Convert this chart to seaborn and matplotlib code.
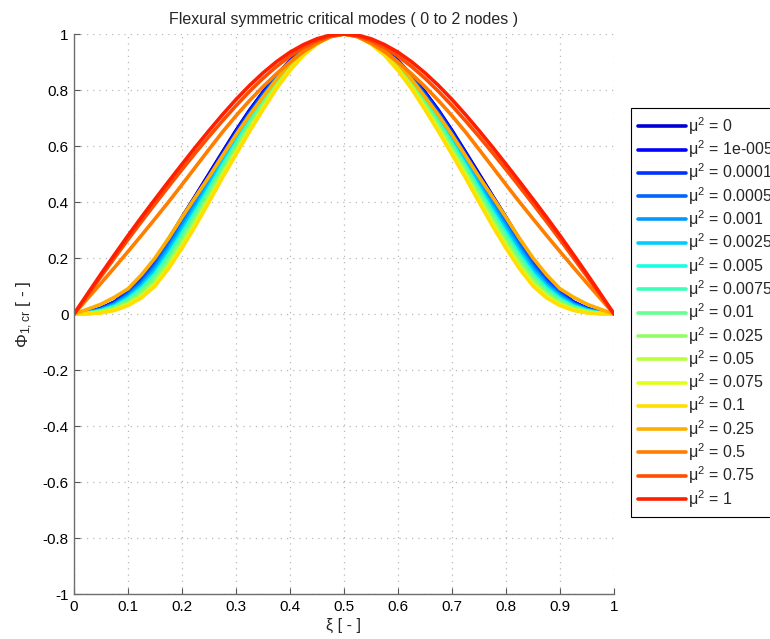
import numpy as np
import pandas as pd
import matplotlib
matplotlib.use("Agg")
import matplotlib.pyplot as plt
import seaborn as sns

# ---------------- data ----------------
xi = [0.0, 0.025, 0.05, 0.075, 0.1, 0.125, 0.15, 0.175, 0.2, 0.225, 0.25,
      0.275, 0.3, 0.325, 0.35, 0.375, 0.4, 0.425, 0.45, 0.475, 0.5,
      0.525, 0.55, 0.575, 0.6, 0.625, 0.65, 0.675, 0.7, 0.725, 0.75,
      0.775, 0.8, 0.825, 0.85, 0.875, 0.9, 0.925, 0.95, 0.975, 1.0]

mu2_labels = ["0", "1e-005", "0.0001", "0.0005", "0.001", "0.0025", "0.005",
              "0.0075", "0.01", "0.025", "0.05", "0.075", "0.1", "0.25",
              "0.5", "0.75", "1"]

phi_mu0 = [0, .005, .020, .043, .080, .128, .190, .265, .345, .422, .500, .578, .655, .727, .792, .852, .905, .946, .976, .994, 1,
           .994, .976, .946, .905, .852, .792, .727, .655, .578, .500, .422, .345, .265, .190, .128, .080, .043, .020, .005, 0]
phi_mu1e5 = [0, .005, .020, .042, .079, .127, .188, .263, .343, .420, .498, .576, .653, .726, .791, .851, .904, .946, .976, .994, 1,
             .994, .976, .946, .904, .851, .791, .726, .653, .576, .498, .420, .343, .263, .188, .127, .079, .042, .020, .005, 0]
phi_mu1e4 = [0, .005, .019, .041, .076, .122, .183, .257, .336, .413, .492, .571, .648, .721, .787, .848, .902, .944, .975, .994, 1,
             .994, .975, .944, .902, .848, .787, .721, .648, .571, .492, .413, .336, .257, .183, .122, .076, .041, .019, .005, 0]
phi_mu5e4 = [0, .004, .017, .038, .071, .115, .174, .247, .325, .403, .482, .562, .640, .714, .781, .844, .899, .942, .974, .994, 1,
             .994, .974, .942, .899, .844, .781, .714, .640, .562, .482, .403, .325, .247, .174, .115, .071, .038, .017, .004, 0]
phi_mu1e3 = [0, .004, .016, .035, .066, .108, .165, .236, .314, .392, .472, .553, .631, .706, .775, .839, .895, .940, .973, .993, 1,
             .993, .973, .940, .895, .839, .775, .706, .631, .553, .472, .392, .314, .236, .165, .108, .066, .035, .016, .004, 0]
phi_mu25e4 = [0, .003, .014, .031, .060, .100, .154, .224, .301, .379, .460, .542, .621, .697, .767, .833, .891, .938, .972, .993, 1,
              .993, .972, .938, .891, .833, .767, .697, .621, .542, .460, .379, .301, .224, .154, .100, .060, .031, .014, .003, 0]
phi_mu5e3 = [0, .003, .012, .027, .054, .092, .143, .211, .288, .366, .448, .531, .611, .688, .760, .828, .887, .935, .970, .993, 1,
             .993, .970, .935, .887, .828, .760, .688, .611, .531, .448, .366, .288, .211, .143, .092, .054, .027, .012, .003, 0]
phi_mu75e4 = [0, .003, .010, .025, .050, .086, .136, .203, .279, .358, .440, .523, .604, .682, .755, .824, .884, .933, .969, .993, 1,
              .993, .969, .933, .884, .824, .755, .682, .604, .523, .440, .358, .279, .203, .136, .086, .050, .025, .010, .003, 0]
phi_mu1e2 = [0, .002, .009, .023, .047, .081, .130, .196, .271, .350, .433, .517, .598, .677, .751, .821, .882, .932, .969, .993, 1,
             .993, .969, .932, .882, .821, .751, .677, .598, .517, .433, .350, .271, .196, .130, .081, .047, .023, .009, .002, 0]
phi_mu25e3 = [0, .002, .007, .019, .040, .072, .118, .183, .257, .336, .420, .505, .587, .667, .742, .814, .877, .929, .967, .992, 1,
              .992, .967, .929, .877, .814, .742, .667, .587, .505, .420, .336, .257, .183, .118, .072, .040, .019, .007, .002, 0]
phi_mu5e2 = [0, .001, .006, .016, .035, .065, .109, .172, .246, .326, .410, .496, .579, .660, .736, .810, .874, .927, .966, .992, 1,
             .992, .966, .927, .874, .810, .736, .660, .579, .496, .410, .326, .246, .172, .109, .065, .035, .016, .006, .001, 0]
phi_mu75e3 = [0, .001, .005, .014, .032, .061, .104, .166, .239, .319, .404, .491, .573, .655, .733, .807, .871, .925, .965, .992, 1,
              .992, .965, .925, .871, .807, .733, .655, .573, .491, .404, .319, .239, .166, .104, .061, .032, .014, .005, .001, 0]
phi_mu01 = [0, .001, .004, .013, .030, .058, .100, .162, .235, .315, .400, .487, .570, .652, .730, .805, .870, .925, .965, .992, 1,
            .992, .965, .925, .870, .805, .730, .652, .570, .487, .400, .315, .235, .162, .100, .058, .030, .013, .004, .001, 0]
phi_mu025 = [0, .017, .035, .060, .090, .140, .200, .270, .345, .418, .490, .565, .640, .710, .775, .838, .895, .940, .972, .993, 1,
             .993, .972, .940, .895, .838, .775, .710, .640, .565, .490, .418, .345, .270, .200, .140, .090, .060, .035, .017, 0]
phi_mu05 = [0, .055, .110, .166, .223, .281, .340, .400, .462, .525, .588, .650, .708, .762, .812, .858, .900, .937, .967, .990, 1,
            .990, .967, .937, .900, .858, .812, .762, .708, .650, .588, .525, .462, .400, .340, .281, .223, .166, .110, .055, 0]
phi_mu075 = [0, .067, .134, .200, .266, .330, .393, .455, .516, .576, .634, .690, .744, .795, .842, .884, .921, .952, .976, .993, 1,
             .993, .976, .952, .921, .884, .842, .795, .744, .690, .634, .576, .516, .455, .393, .330, .266, .200, .134, .067, 0]
phi_mu1 = [0, .072, .143, .212, .280, .346, .410, .473, .535, .596, .655, .712, .766, .816, .861, .901, .935, .962, .983, .996, 1,
           .996, .983, .962, .935, .901, .861, .816, .766, .712, .655, .596, .535, .473, .410, .346, .280, .212, .143, .072, 0]

series = [phi_mu0, phi_mu1e5, phi_mu1e4, phi_mu5e4, phi_mu1e3, phi_mu25e4,
          phi_mu5e3, phi_mu75e4, phi_mu1e2, phi_mu25e3, phi_mu5e2, phi_mu75e3,
          phi_mu01, phi_mu025, phi_mu05, phi_mu075, phi_mu1]

x_ticks = [0, 0.1, 0.2, 0.3, 0.4, 0.5, 0.6, 0.7, 0.8, 0.9, 1]
x_ticklabels = ["0", "0.1", "0.2", "0.3", "0.4", "0.5", "0.6", "0.7", "0.8", "0.9", "1"]
y_ticks = [-1, -0.8, -0.6, -0.4, -0.2, 0, 0.2, 0.4, 0.6, 0.8, 1]
y_ticklabels = ["-1", "-0.8", "-0.6", "-0.4", "-0.2", "0", "0.2", "0.4", "0.6", "0.8", "1"]

# ---------------- build long table ----------------
labels = ["μ$^2$ = " + m for m in mu2_labels]
rows = []
for lab, vals in zip(labels, series):
    for x, y in zip(xi, vals):
        rows.append((lab, x, y))
df = pd.DataFrame(rows, columns=["label", "xi", "phi"])

jet = matplotlib.colormaps["jet"]
colors = [jet(0.075 + 0.05 * i) for i in range(len(labels))]

# ---------------- plot ----------------
sns.set_theme(style="white")
plt.rcParams["font.family"] = ["Liberation Sans", "DejaVu Sans"]
plt.rcParams["axes.unicode_minus"] = False
plt.rcParams["mathtext.fontset"] = "custom"
plt.rcParams["mathtext.rm"] = "Liberation Sans"
plt.rcParams["mathtext.it"] = "Liberation Sans"

W, H = 770, 639
fig = plt.figure(figsize=(W / 100, H / 100), dpi=100)
ax = fig.add_axes([74 / W, 1 - 594 / H, 540 / W, 560 / H])

sns.lineplot(data=df, x="xi", y="phi", hue="label", hue_order=labels,
             palette=colors, linewidth=2.6, estimator=None, sort=False,
             ax=ax, legend=True)
for ln in ax.get_lines():
    ln.set_solid_joinstyle("round")
    ln.set_solid_capstyle("round")

ax.set_xlim(0, 1)
ax.set_ylim(-1, 1)
ax.set_xticks(x_ticks)
ax.set_xticklabels(x_ticklabels)
ax.set_yticks(y_ticks)
ax.set_yticklabels(y_ticklabels)
ax.tick_params(direction="in", length=4, width=0.8, labelsize=11,
               bottom=True, left=True, colors="#555555", labelcolor="black", pad=4)
ax.grid(True, linestyle=(0, (1, 4)), color="#b8b8b8", linewidth=0.9)
for s in ["top", "right"]:
    ax.spines[s].set_visible(False)
for s in ["left", "bottom"]:
    ax.spines[s].set_color("#6e6e6e")
    ax.spines[s].set_linewidth(1.0)

ax.set_title("Flexural symmetric critical modes ( 0 to 2 nodes )", fontsize=11.5, pad=7)
ax.set_xlabel("ξ [ - ]", fontsize=11.5, labelpad=3)
ax.set_ylabel("Φ$_{1,cr}$ [ - ]", fontsize=12.5, labelpad=5)

handles, lbls = ax.get_legend_handles_labels()
leg = ax.legend(handles, lbls, loc="upper left",
                bbox_to_anchor=(631 / W, 1 - 108 / H), bbox_transform=fig.transFigure,
                fontsize=11.5, frameon=True, fancybox=False, edgecolor="black",
                framealpha=1, borderaxespad=0, handlelength=3.0, handletextpad=0.15,
                labelspacing=0.1, borderpad=0.45)
leg.get_frame().set_linewidth(0.8)
for ln in leg.get_lines():
    ln.set_linewidth(2.6)

fig.savefig("out.png", dpi=100)
